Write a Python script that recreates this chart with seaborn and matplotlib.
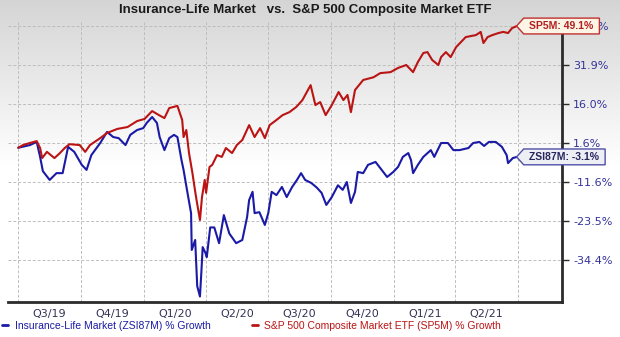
import numpy as np
import pandas as pd
import matplotlib
matplotlib.use("Agg")
import matplotlib.pyplot as plt
import matplotlib.dates as mdates
from matplotlib.path import Path
import seaborn as sns

# ---------------- data ----------------
title = "Insurance-Life Market   vs.  S&P 500 Composite Market ETF"
quarter_labels = ["Q3/19", "Q4/19", "Q1/20", "Q2/20", "Q3/20", "Q4/20", "Q1/21", "Q2/21"]
quarter_starts = ["2019-07-01", "2019-10-01", "2020-01-01", "2020-04-01", "2020-07-01",
                  "2020-10-01", "2021-01-01", "2021-04-01", "2021-07-01"]
y_tick_values = [-34.4, -23.5, -11.6, 1.6, 16.0, 31.9, 49.1]

zsi_name = "Insurance-Life Market (ZSI87M) % Growth"
sp5m_name = "S&P 500 Composite Market ETF (SP5M) % Growth"
zsi_tag = "ZSI87M: -3.1%"
sp5m_tag = "SP5M: 49.1%"

sp5m_dates = ["2019-07-01", "2019-07-08", "2019-07-18", "2019-07-28", "2019-08-02", "2019-08-05",
              "2019-08-12", "2019-08-23", "2019-08-31", "2019-09-07", "2019-09-14", "2019-09-29",
              "2019-10-07", "2019-10-14", "2019-10-29", "2019-11-08", "2019-11-23", "2019-12-08",
              "2019-12-22", "2020-01-02", "2020-01-13", "2020-01-23", "2020-01-31", "2020-02-07",
              "2020-02-19", "2020-02-26", "2020-02-28", "2020-03-03", "2020-03-07", "2020-03-12",
              "2020-03-15", "2020-03-18", "2020-03-23", "2020-03-26", "2020-03-30", "2020-04-01",
              "2020-04-06", "2020-04-10", "2020-04-17", "2020-04-24", "2020-04-30", "2020-05-09",
              "2020-05-16", "2020-05-24", "2020-06-03", "2020-06-11", "2020-06-19", "2020-06-26",
              "2020-07-03", "2020-07-13", "2020-07-22", "2020-08-01", "2020-08-11", "2020-08-20",
              "2020-09-01", "2020-09-08", "2020-09-15", "2020-09-23", "2020-10-02", "2020-10-12",
              "2020-10-19", "2020-10-25", "2020-10-30", "2020-11-05", "2020-11-17", "2020-12-02",
              "2020-12-12", "2020-12-27", "2021-01-07", "2021-01-19", "2021-01-29", "2021-02-05",
              "2021-02-13", "2021-02-19", "2021-02-26", "2021-03-07", "2021-03-11", "2021-03-18",
              "2021-03-25", "2021-04-02", "2021-04-09", "2021-04-16", "2021-04-24", "2021-05-01",
              "2021-05-08", "2021-05-12", "2021-05-18", "2021-05-25", "2021-06-03", "2021-06-10",
              "2021-06-17", "2021-06-23", "2021-06-30"]
sp5m_values = [0.0, 0.9, 1.6, 2.3, -0.1, -3.5, -1.4, -3.5, -1.8, -0.1,
               1.2, 0.9, -1.4, 0.9, 3.4, 5.3, 6.8, 7.5, 9.7, 10.5,
               13.4, 11.9, 10.8, 14.5, 15.3, 10.1, 3.8, 6.4, -1.8, -8.6,
               -13.1, -17.1, -23.2, -16.2, -10.9, -14.9, -6.5, -5.8, -2.5, -3.1,
               -0.1, -1.8, 0.9, 2.7, 8.2, 3.8, 7.1, 3.4, 8.2, 10.1,
               11.9, 13.0, 14.9, 17.6, 23.7, 15.6, 16.8, 11.9, 15.6, 20.9,
               17.6, 19.7, 13.0, 21.7, 25.8, 26.9, 28.6, 29.0, 30.7, 31.9,
               29.0, 33.2, 37.2, 37.6, 34.1, 31.9, 35.4, 37.6, 35.4, 39.8,
               42.0, 44.2, 44.7, 45.1, 46.5, 41.6, 44.2, 45.1, 46.0, 46.5,
               46.0, 48.2, 49.1]

zsi_dates = ["2019-07-01", "2019-07-18", "2019-07-28", "2019-08-02", "2019-08-06", "2019-08-16",
             "2019-08-26", "2019-09-04", "2019-09-12", "2019-09-21", "2019-10-02", "2019-10-09",
             "2019-10-16", "2019-10-29", "2019-11-08", "2019-11-17", "2019-11-25", "2019-12-05",
             "2019-12-12", "2019-12-22", "2019-12-31", "2020-01-05", "2020-01-13", "2020-01-20",
             "2020-01-24", "2020-01-31", "2020-02-07", "2020-02-14", "2020-02-19", "2020-02-25",
             "2020-02-28", "2020-03-04", "2020-03-10", "2020-03-11", "2020-03-16", "2020-03-19",
             "2020-03-23", "2020-03-25", "2020-03-27", "2020-03-31", "2020-04-02", "2020-04-07",
             "2020-04-13", "2020-04-20", "2020-04-27", "2020-05-05", "2020-05-15", "2020-05-24",
             "2020-05-31", "2020-06-03", "2020-06-08", "2020-06-11", "2020-06-18", "2020-06-26",
             "2020-07-01", "2020-07-06", "2020-07-13", "2020-07-21", "2020-07-28", "2020-08-05",
             "2020-08-12", "2020-08-18", "2020-08-24", "2020-09-02", "2020-09-10", "2020-09-17",
             "2020-09-24", "2020-10-02", "2020-10-11", "2020-10-18", "2020-10-24", "2020-10-30",
             "2020-11-05", "2020-11-09", "2020-11-17", "2020-11-24", "2020-12-05", "2020-12-12",
             "2020-12-22", "2020-12-31", "2021-01-07", "2021-01-14", "2021-01-22", "2021-01-26",
             "2021-01-29", "2021-02-05", "2021-02-13", "2021-02-24", "2021-03-01", "2021-03-11",
             "2021-03-21", "2021-03-29", "2021-04-07", "2021-04-20", "2021-04-27", "2021-05-06",
             "2021-05-13", "2021-05-20", "2021-05-30", "2021-06-08", "2021-06-15", "2021-06-17",
             "2021-06-24", "2021-06-30"]
zsi_values = [0.0, 0.9, 2.0, -3.1, -7.9, -10.9, -8.6, -8.6, 0.3, -1.4,
              -5.8, -7.5, -2.5, 1.6, 5.7, 3.8, 3.4, 0.9, 4.6, 6.4,
              7.1, 9.0, 11.2, 9.0, 3.8, -0.8, 3.4, 4.6, 3.8, -4.2,
              -7.5, -14.0, -21.1, -31.6, -28.8, -41.7, -44.6, -38.0, -30.8, -32.4,
              -33.6, -25.3, -25.3, -29.7, -21.7, -27.0, -29.7, -28.8, -22.3, -17.1,
              -14.6, -21.1, -20.8, -24.6, -21.1, -14.6, -15.6, -13.1, -16.2, -13.1,
              -10.9, -8.6, -10.9, -11.9, -13.3, -14.9, -18.6, -16.2, -12.6, -14.0,
              -11.6, -18.0, -14.6, -8.2, -8.6, -5.8, -4.8, -6.9, -9.9, -8.2,
              -6.5, -3.1, -1.8, -4.2, -8.6, -5.8, -3.1, -0.8, -3.1, 1.6,
              1.6, -0.8, -0.8, -0.1, 1.6, 2.0, 0.6, 2.0, 2.0, 0.3,
              -2.5, -5.2, -3.5, -3.1]

# ---------------- styling ----------------
RED = "#bb1414"
BLUE = "#1a1aa6"
W, H = 620, 337

sns.set_style("white")
plt.rcParams["font.family"] = ["DejaVu Sans"]

fig = plt.figure(figsize=(W / 100, H / 100), dpi=100)

# background vertical gradient (grey at top fading to white)
rows = np.arange(H)
shade = 0.835 + 0.165 * np.clip(rows / 165.0, 0, 1)
grad = np.repeat(shade[:, None, None], 3, axis=2) * np.ones((H, 1, 3))
bg = fig.add_axes([0, 0, 1, 1], zorder=-10)
bg.imshow(grad, aspect="auto", extent=[0, 1, 0, 1], interpolation="bilinear")
bg.axis("off")

ax = fig.add_axes([8 / W, (H - 302) / H, (562 - 8) / W, (302 - 22) / H], zorder=1)
ax.set_facecolor("none")

# piecewise scale: tick values equally spaced on screen
tv = np.array(y_tick_values, dtype=float)
ti = np.arange(len(tv), dtype=float)


def fwd(v):
    v = np.asarray(v, dtype=float)
    out = np.interp(v, tv, ti)
    out = np.where(v < tv[0], (v - tv[0]) / (tv[1] - tv[0]), out)
    out = np.where(v > tv[-1], ti[-1] + (v - tv[-1]) / (tv[-1] - tv[-2]), out)
    return out


def inv(p):
    p = np.asarray(p, dtype=float)
    out = np.interp(p, ti, tv)
    out = np.where(p < 0, tv[0] + p * (tv[1] - tv[0]), out)
    out = np.where(p > ti[-1], tv[-1] + (p - ti[-1]) * (tv[-1] - tv[-2]), out)
    return out


ax.set_yscale("function", functions=(fwd, inv))

zsi_df = pd.DataFrame({"date": pd.to_datetime(zsi_dates), "pct": zsi_values})
sp_df = pd.DataFrame({"date": pd.to_datetime(sp5m_dates), "pct": sp5m_values})

sns.lineplot(data=zsi_df, x="date", y="pct", ax=ax, color=BLUE, linewidth=1.5,
             label=zsi_name, legend=False)
sns.lineplot(data=sp_df, x="date", y="pct", ax=ax, color=RED, linewidth=1.5,
             label=sp5m_name, legend=False)

ax.set_xlabel("")
ax.set_ylabel("")
ax.set_ylim(float(inv(-1.077)), float(inv(6.103)))
ax.set_xlim(pd.Timestamp("2019-06-16"), pd.Timestamp("2021-09-04"))

# x axis: gridlines at quarter boundaries, labels centered in quarters
qs = pd.to_datetime(quarter_starts)
mids = [qs[i] + (qs[i + 1] - qs[i]) / 2 for i in range(len(qs) - 1)]
ax.set_xticks(qs)
ax.set_xticklabels([""] * len(qs))
ax.set_xticks(mids, minor=True)
ax.set_xticklabels(quarter_labels, minor=True)
ax.tick_params(axis="x", which="both", length=0, pad=5, labelsize=8, labelcolor="#333355")

# y axis on the right
ax.yaxis.tick_right()
ax.set_yticks(y_tick_values)
ax.set_yticklabels([f"{v:.1f}%" for v in y_tick_values])
ax.yaxis.set_minor_locator(matplotlib.ticker.NullLocator())
ax.tick_params(axis="y", which="major", right=True, left=False, length=5, width=1,
               color="#2b2b2b", labelsize=8, labelcolor="#33339a", pad=3)

ax.grid(True, which="major", axis="both", color="#bdbdbd", linestyle=(0, (3, 2)), linewidth=0.7)

for s in ["left", "top"]:
    ax.spines[s].set_visible(False)
for s in ["right", "bottom"]:
    ax.spines[s].set_color("#2b2b2b")
    ax.spines[s].set_linewidth(2)


# tag-shaped end labels
def tag_box(x0, y0, width, height, mutation_size):
    padx = 0.55 * mutation_size
    pady = 0.28 * mutation_size
    x0 -= padx
    y0 -= pady
    width += 2 * padx
    height += 2 * pady
    notch = 0.45 * height
    verts = [(x0 - notch, y0 + height / 2), (x0, y0 + height), (x0 + width, y0 + height),
             (x0 + width, y0), (x0, y0), (x0 - notch, y0 + height / 2)]
    codes = [Path.MOVETO, Path.LINETO, Path.LINETO, Path.LINETO, Path.LINETO, Path.CLOSEPOLY]
    return Path(verts, codes)


ax.annotate(sp5m_tag, xy=(sp_df["date"].iloc[-1], sp_df["pct"].iloc[-1]),
            xytext=(9, 0), textcoords="offset points", ha="left", va="center",
            fontsize=7.5, fontweight="bold", color="#b02020", family="Liberation Sans",
            bbox=dict(boxstyle=tag_box, fc="#fcf4e4", ec="#c03030", lw=1),
            annotation_clip=False, zorder=10)
ax.annotate(zsi_tag, xy=(zsi_df["date"].iloc[-1], zsi_df["pct"].iloc[-1]),
            xytext=(9, 0), textcoords="offset points", ha="left", va="center",
            fontsize=7.5, fontweight="bold", color="#25255e", family="Liberation Sans",
            bbox=dict(boxstyle=tag_box, fc="#eeeef5", ec="#5050a8", lw=1),
            annotation_clip=False, zorder=10)

# title
fig.text(305 / W, 1 - 10 / H, title, ha="center", va="center", fontsize=9.5,
         fontweight="bold", family="Liberation Sans", color="#1a1a1a")

# legend
handles = ax.get_lines()[:2]
leg = fig.legend(handles, [zsi_name, sp5m_name], loc="center left",
                 bbox_to_anchor=(0.0, (H - 326) / H), ncol=2, frameon=False,
                 handlelength=0.6, handletextpad=0.6, columnspacing=4.0,
                 borderpad=0.2, borderaxespad=0,
                 prop={"family": "Liberation Sans", "size": 7.5})
for t, c in zip(leg.get_texts(), [BLUE, RED]):
    t.set_color(c)
for h in leg.legend_handles:
    h.set_linewidth(2)

fig.savefig("out.png", dpi=100)
